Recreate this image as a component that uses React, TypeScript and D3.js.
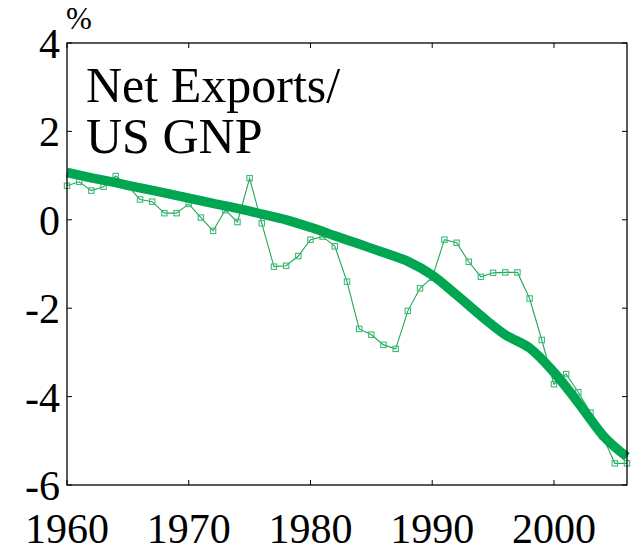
import React from "react";
import * as d3 from "d3";

const years: number[] = d3.range(1960, 2007);
const netExports: number[] = [
  0.77, 0.86, 0.66, 0.75, 0.99, 0.76, 0.46, 0.41, 0.15, 0.15,
  0.36, 0.05, -0.25, 0.22, -0.05, 0.94, -0.08, -1.06, -1.04, -0.82,
  -0.45, -0.38, -0.6, -1.4, -2.47, -2.6, -2.83, -2.92, -2.06, -1.55,
  -1.31, -0.45, -0.52, -0.95, -1.29, -1.2, -1.19, -1.19, -1.78, -2.72,
  -3.72, -3.49, -3.9, -4.36, -4.9, -5.51, -5.51,
];
const trendYears: number[] = [1960, 1962, 1964, 1966, 1968, 1970, 1972, 1974, 1976, 1978, 1980, 1982, 1984, 1986, 1988, 1990, 1992, 1994, 1996, 1998, 2000, 2002, 2004, 2005, 2006];
const trendValues: number[] = [1.07, 0.95, 0.84, 0.72, 0.61, 0.49, 0.37, 0.26, 0.13, 0.0, -0.17, -0.36, -0.55, -0.74, -0.94, -1.25, -1.7, -2.17, -2.6, -2.9, -3.45, -4.14, -4.87, -5.14, -5.36];
const xTicks: number[] = [1960, 1970, 1980, 1990, 2000];
const yTicks: number[] = [4, 2, 0, -2, -4, -6];
const titleLines: string[] = ["Net Exports/", "US GNP"];

const W = 634, H = 551;
const L = 67, R = 627, T = 43, B = 485;

export default function App() {
  const x = d3.scaleLinear().domain([1960, 2006]).range([L, R]);
  const y = d3.scaleLinear().domain([-6, 4]).range([B, T]);
  const thin = d3.line<number>().x((_, i) => x(years[i])).y((d) => y(d));
  const thick = d3
    .line<number>()
    .x((_, i) => x(trendYears[i]))
    .y((d) => y(d))
    .curve(d3.curveCatmullRom.alpha(0.5));
  const tl = 5;
  return (
    <div style={{ position: "absolute", left: 0, top: 0, width: W, height: H, fontFamily: '"Times New Roman", "Liberation Serif", Tinos, serif' }}>
      <style>{`.srf { font-family: "Times New Roman", "Liberation Serif", Tinos, "Nimbus Roman", FreeSerif, serif; }`}</style>
      <svg width={W} height={H} style={{ display: "block" }}>
        <path d={thin(netExports) || ""} fill="none" stroke="#1fa85a" strokeWidth={1.1} />
        {netExports.map((v, i) => (
          <rect key={i} x={x(years[i]) - 2.7} y={y(v) - 2.7} width={5.4} height={5.4} fill="none" stroke="#3dbb74" strokeWidth={1.1} />
        ))}
        <path d={thick(trendValues) || ""} fill="none" stroke="#00a651" strokeWidth={9.5} strokeLinecap="butt" />
        <rect x={L} y={T} width={R - L} height={B - T} fill="none" stroke="#000" strokeWidth={1.3} />
        {xTicks.map((t) => (
          <g key={t}>
            <line x1={x(t)} x2={x(t)} y1={B} y2={B - tl} stroke="#000" strokeWidth={1} />
            <line x1={x(t)} x2={x(t)} y1={T} y2={T + tl} stroke="#000" strokeWidth={1} />
            <text className="srf" x={x(t)} y={543} fontSize={42} textAnchor="middle">{t}</text>
          </g>
        ))}
        {yTicks.map((t) => (
          <g key={t}>
            <line x1={L} x2={L + tl} y1={y(t)} y2={y(t)} stroke="#000" strokeWidth={1} />
            <line x1={R} x2={R - tl} y1={y(t)} y2={y(t)} stroke="#000" strokeWidth={1} />
            <text className="srf" x={60} y={y(t) + 15} fontSize={42} textAnchor="end">{t}</text>
          </g>
        ))}
        <text className="srf" x={66} y={29} fontSize={31}>%</text>
        {titleLines.map((s, i) => (
          <text className="srf" key={i} x={86} y={102 + i * 51} fontSize={50}>{s}</text>
        ))}
      </svg>
    </div>
  );
}
